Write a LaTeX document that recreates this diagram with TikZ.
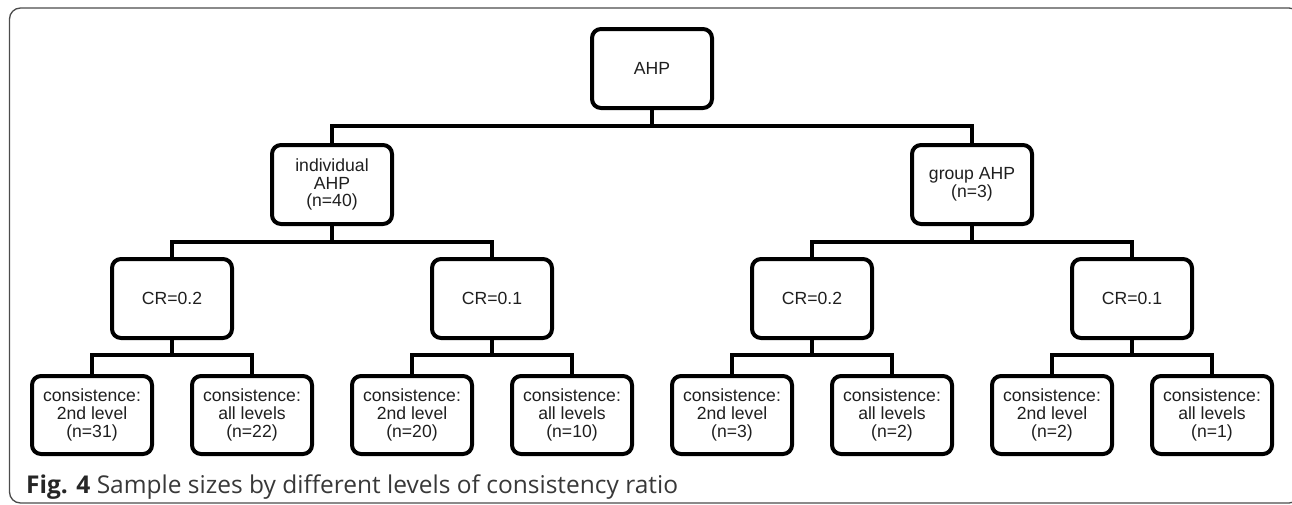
\documentclass[tikz,border=0pt]{standalone}
\usepackage{fontspec}
\setmainfont{Liberation Sans}
\newfontfamily\capfont{Open Sans}
\begin{document}
\begin{tikzpicture}[x=1pt,y=-1pt,
  box/.style={draw=black, line width=4pt, rounded corners=9pt, fill=white,
    minimum width=120pt, minimum height=79pt, align=center, inner sep=2pt,
    text=black!88, font=\fontsize{17.6}{17.8}\selectfont},
  leaf/.style={box, minimum height=78pt},
  conn/.style={line width=4pt, line join=miter}]
\useasboundingbox (0,0) rectangle (1292,504);
\draw[line width=1.3pt, draw=black!70, rounded corners=11pt] (9.5,8) rectangle (1300,503);
% nodes
\node[box] (root) at (652,68.5) {AHP};
\node[box] (ind) at (332,184.5) {individual\\AHP\\(n=40)};
\node[box] (grp) at (972,184.5) {group AHP\\(n=3)};
\node[box] (c1) at (172,298.5) {CR=0.2};
\node[box] (c2) at (492,298.5) {CR=0.1};
\node[box] (c3) at (812,298.5) {CR=0.2};
\node[box] (c4) at (1132,298.5) {CR=0.1};
\node[leaf] (l1) at (92,415) {consistence:\\2nd level\\(n=31)};
\node[leaf] (l2) at (252,415) {consistence:\\all levels\\(n=22)};
\node[leaf] (l3) at (412,415) {consistence:\\2nd level\\(n=20)};
\node[leaf] (l4) at (572,415) {consistence:\\all levels\\(n=10)};
\node[leaf] (l5) at (732,415) {consistence:\\2nd level\\(n=3)};
\node[leaf] (l6) at (892,415) {consistence:\\all levels\\(n=2)};
\node[leaf] (l7) at (1052,415) {consistence:\\2nd level\\(n=2)};
\node[leaf] (l8) at (1212,415) {consistence:\\all levels\\(n=1)};
% bus coordinates
\coordinate (b0) at (652,126);
\coordinate (b1) at (332,242);
\coordinate (b2) at (972,242);
\coordinate (b3) at (172,355);
\coordinate (b4) at (492,355);
\coordinate (b5) at (812,355);
\coordinate (b6) at (1132,355);
% connectors
\draw[conn] (root.south) -- (b0);
\draw[conn] (ind.north) |- (b0) -| (grp.north);
\draw[conn] (ind.south) -- (b1);
\draw[conn] (c1.north) |- (b1) -| (c2.north);
\draw[conn] (grp.south) -- (b2);
\draw[conn] (c3.north) |- (b2) -| (c4.north);
\draw[conn] (c1.south) -- (b3);
\draw[conn] (l1.north) |- (b3) -| (l2.north);
\draw[conn] (c2.south) -- (b4);
\draw[conn] (l3.north) |- (b4) -| (l4.north);
\draw[conn] (c3.south) -- (b5);
\draw[conn] (l5.north) |- (b5) -| (l6.north);
\draw[conn] (c4.south) -- (b6);
\draw[conn] (l7.north) |- (b6) -| (l8.north);
% caption
\node[anchor=base west, inner sep=0pt, text=black!78, font=\capfont\fontsize{24.5}{27}\selectfont] (cap) at (26,493)
  {{\bfseries\color{black!85}Fig. 4} Sample sizes by different levels of consistency ratio};
\end{tikzpicture}
\end{document}
